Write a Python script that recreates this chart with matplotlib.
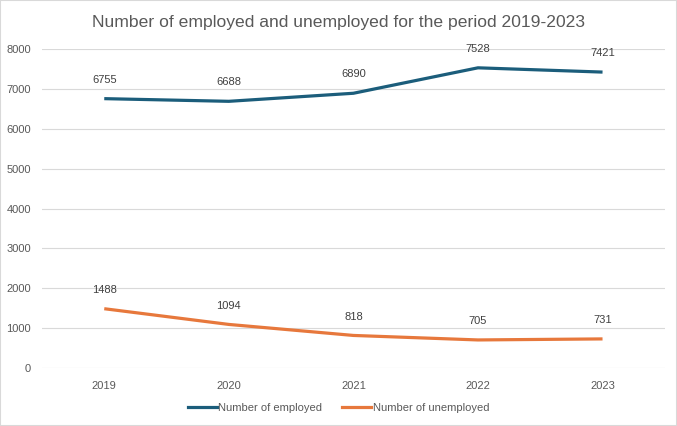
import numpy as np
import matplotlib.pyplot as plt
from matplotlib.patches import Rectangle
from matplotlib.lines import Line2D

years = ["2019", "2020", "2021", "2022", "2023"]
employed = [6755, 6688, 6890, 7528, 7421]
unemployed = [1488, 1094, 818, 705, 731]

blue = "#1B5D7B"
orange = "#E7783C"
txt = "#595959"

plt.rcParams["font.family"] = ["Liberation Sans", "DejaVu Sans"]

fig = plt.figure(figsize=(6.77, 4.26), dpi=100)
fig.patches.append(Rectangle((0, 0), 1, 1, transform=fig.transFigure,
                             fill=False, edgecolor="#D9D9D9", linewidth=1.5))
ax = fig.add_axes([0.062, 0.136, 0.92, 0.749])

x = np.arange(len(years))
for vals, col in [(employed, blue), (unemployed, orange)]:
    ax.plot(x, vals, color=col, linewidth=2.3,
            solid_joinstyle="round", solid_capstyle="butt")
    for xi, v in zip(x, vals):
        ax.annotate(str(v), (xi, v), xytext=(0, 10), textcoords="offset points",
                    ha="center", va="bottom", fontsize=8, color="#404040")

ax.set_xlim(-0.5, len(years) - 0.5)
ax.set_ylim(0, 8000)
ax.set_yticks(range(0, 8001, 1000))
ax.set_xticks(x)
ax.set_xticklabels(years)
ax.tick_params(length=0, labelsize=8, colors=txt)
ax.tick_params(axis="y", pad=8)
ax.tick_params(axis="x", pad=9)
ax.grid(axis="y", color="#D9D9D9", linewidth=0.8)
ax.set_axisbelow(True)
for s in ax.spines.values():
    s.set_visible(False)

fig.suptitle("Number of employed and unemployed for the period 2019-2023",
             x=0.5, y=0.965, fontsize=12.6, color=txt)

handles = [Line2D([], [], color=blue, linewidth=2.3),
           Line2D([], [], color=orange, linewidth=2.3)]
fig.legend(handles, ["Number of employed", "Number of unemployed"],
           loc="center", bbox_to_anchor=(0.5, 0.043), ncol=2, frameon=False,
           fontsize=8, labelcolor=txt, handlelength=2.6, handletextpad=0.15,
           columnspacing=1.8)

fig.savefig("out.png", dpi=100)
